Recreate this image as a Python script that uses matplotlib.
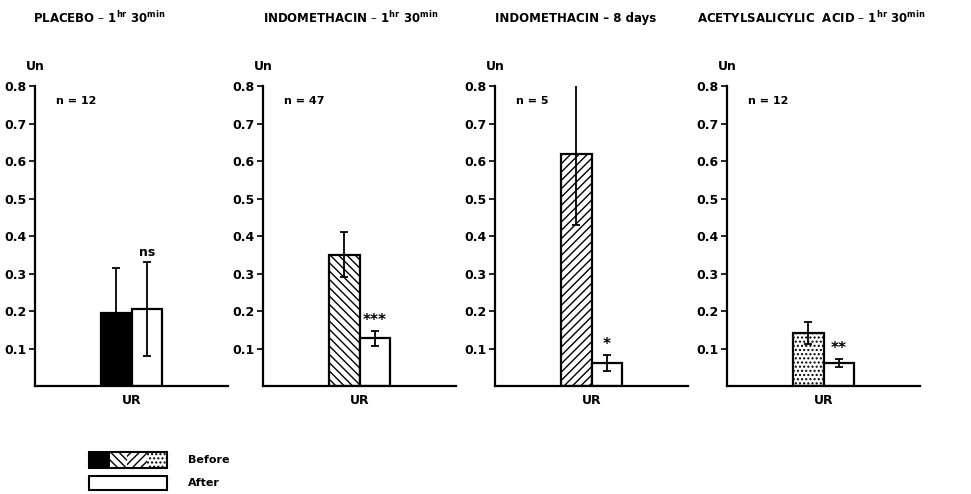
import numpy as np
import matplotlib
matplotlib.use("Agg")
import matplotlib.pyplot as plt
from matplotlib.patches import Rectangle

# values (units "Un")
titles = [
    r"PLACEBO – 1$^{\mathbf{hr}}$ 30$^{\mathbf{min}}$",
    r"INDOMETHACIN – 1$^{\mathbf{hr}}$ 30$^{\mathbf{min}}$",
    r"INDOMETHACIN – 8 days",
    r"ACETYLSALICYLIC  ACID – 1$^{\mathbf{hr}}$ 30$^{\mathbf{min}}$",
]
n_values = [12, 47, 5, 12]
category = "UR"
before = [0.195, 0.35, 0.62, 0.142]
before_err = [0.12, 0.06, 0.19, 0.03]
after = [0.205, 0.127, 0.062, 0.061]
after_err = [0.125, 0.02, 0.022, 0.01]
signif = ["ns", "***", "*", "**"]
yticks = [0.1, 0.2, 0.3, 0.4, 0.5, 0.6, 0.7, 0.8]

plt.rcParams["font.family"] = "DejaVu Sans"
plt.rcParams["font.weight"] = "bold"
plt.rcParams["mathtext.fontset"] = "dejavusans"
plt.rcParams["hatch.linewidth"] = 1.0

W, H = 971, 494
fig = plt.figure(figsize=(W / 100, H / 100), dpi=100)

styles = [
    dict(color="black", hatch=None),
    dict(color="white", hatch="\\\\\\\\"),
    dict(color="white", hatch="////"),
    dict(color="white", hatch="...."),
]
ax_left = [35, 263, 495, 727]
title_dx = [-2, 0, 0, -30]
ax_w, ax_bottom, ax_top = 193, 386, 86
bw = 0.16
lw = 1.6

for i in range(4):
    ax = fig.add_axes([ax_left[i] / W, 1 - ax_bottom / H, ax_w / W, (ax_bottom - ax_top) / H])
    xb, xa = 0.5 - bw / 2, 0.5 + bw / 2
    ax.bar(xb, before[i], bw, facecolor=styles[i]["color"], hatch=styles[i]["hatch"],
           edgecolor="black", linewidth=lw, zorder=2)
    ax.bar(xa, after[i], bw, facecolor="white", edgecolor="black", linewidth=lw, zorder=2)
    ax.errorbar(xb, before[i], yerr=before_err[i], fmt="none", ecolor="black",
                elinewidth=1.3, capsize=3, capthick=1.3, zorder=3)
    ax.errorbar(xa, after[i], yerr=after_err[i], fmt="none", ecolor="black",
                elinewidth=1.3, capsize=3, capthick=1.3, zorder=3)
    sig_fs = 9 if signif[i] == "ns" else 11
    ax.text(xa, after[i] + after_err[i] + 0.008, signif[i], ha="center", va="bottom",
            fontsize=sig_fs, fontweight="bold")
    ax.set_xlim(0, 1)
    ax.set_ylim(0, 0.8)
    ax.set_yticks(yticks)
    ax.set_yticklabels([f"{t:.1f}" for t in yticks], fontsize=9, fontweight="bold")
    ax.set_xticks([0.5])
    ax.set_xticklabels([category], fontsize=9, fontweight="bold")
    ax.tick_params(axis="x", length=0, pad=6)
    ax.tick_params(axis="y", length=4, width=1.2, pad=2)
    for s in ["top", "right"]:
        ax.spines[s].set_visible(False)
    for s in ["left", "bottom"]:
        ax.spines[s].set_linewidth(lw)
    ax.text(0, 1.065, "Un", transform=ax.transAxes, ha="center", va="center",
            fontsize=9, fontweight="bold")
    ax.text(0.11, 0.95, f"n = {n_values[i]}", transform=ax.transAxes, ha="left",
            va="center", fontsize=8, fontweight="bold")
    ax.text(title_dx[i] / ax_w, (ax_bottom - 18) / (ax_bottom - ax_top), titles[i],
            transform=ax.transAxes, ha="left", va="center", fontsize=8.5, fontweight="bold")

# legend drawn in pixel-like coordinates
lg = fig.add_axes([0, 0, 1, 1], zorder=-1)
lg.set_xlim(0, W)
lg.set_ylim(H, 0)
lg.axis("off")
segs = [(89, 110, styles[0]), (110, 127, styles[1]), (127, 147, styles[2]), (147, 167, styles[3])]
for x0, x1, st in segs:
    lg.add_patch(Rectangle((x0, 452), x1 - x0, 16, facecolor=st["color"], hatch=st["hatch"],
                           edgecolor="black", linewidth=0))
lg.add_patch(Rectangle((89, 452), 78, 16, facecolor="none", edgecolor="black", linewidth=1.5))
lg.add_patch(Rectangle((89, 476), 78, 14, facecolor="white", edgecolor="black", linewidth=1.5))
lg.text(188, 460, "Before", ha="left", va="center", fontsize=8, fontweight="bold")
lg.text(188, 483, "After", ha="left", va="center", fontsize=8, fontweight="bold")

fig.savefig("out.png", dpi=100)
